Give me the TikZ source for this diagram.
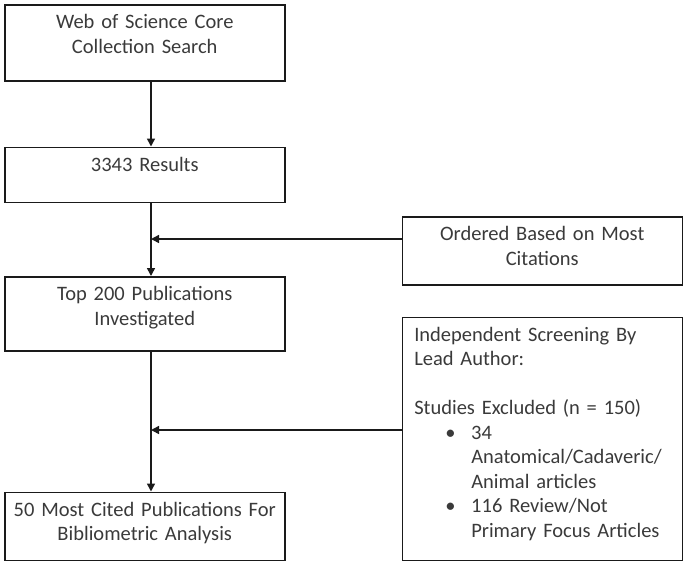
\documentclass[tikz,border=0pt]{standalone}
\usepackage{fontspec}
\setmainfont{Carlito}
\usetikzlibrary{arrows.meta,calc,positioning}
\definecolor{flowText}{HTML}{3A3A3A}
\definecolor{flowLine}{HTML}{1A1A1A}
\newcommand{\exbullet}{\hspace*{31pt}\makebox[26pt][l]{•}}
\newcommand{\exindent}{\hspace*{57pt}}

\begin{document}
\begin{tikzpicture}[x=1pt,y=1pt,
    box/.style={draw=flowLine,line width=1.5pt,text=flowText,align=center,
      text width=264pt,inner xsep=8pt,inner ysep=0pt,text height=24pt,
      font=\fontsize{20.5}{24.5}\selectfont},
    arrow/.style={-{Triangle[length=8pt,width=8pt]},line width=1.5pt,draw=flowLine}]
    \useasboundingbox (0,0) rectangle (688,-563);
    \node[box,text depth=52pt,anchor=north west] (search) at (4,-4) {Web of Science Core\\Collection Search};
    \node[box,text depth=31pt,below=65pt of search] (results) {3343 Results};
    \node[box,text depth=50pt,below=73pt of results] (top200) {Top 200 Publications\\Investigated};
    \node[box,text depth=44pt,below=140pt of top200] (final) {50 Most Cited Publications For\\Bibliometric Analysis};
    \node[box,text depth=44pt,below right=13pt and 116pt of results] (ordered) {Ordered Based on Most\\Citations};
    \node[box,text depth=219pt,align=left,text width=256pt,inner xsep=12pt,below=31pt of ordered] (screening) {Independent Screening By\\Lead Author:\\[24.5pt]Studies Excluded (n = 150)\\\exbullet 34\\\exindent Anatomical/Cadaveric/\\\exindent Animal articles\\\exbullet 116 Review/Not\\\exindent Primary Focus Articles};
    \coordinate (cite) at (151,-239);
    \coordinate (screen) at (151,-430);
    \draw[arrow] (search.south -| cite)--(results.north -| cite);
    \draw[arrow] (results.south -| cite)--(top200.north -| cite);
    \draw[arrow] (ordered.west |- cite)--(cite);
    \draw[arrow] (top200.south -| screen)--(final.north -| screen);
    \draw[arrow] (screening.west |- screen)--(screen);
  \end{tikzpicture}
\end{document}
